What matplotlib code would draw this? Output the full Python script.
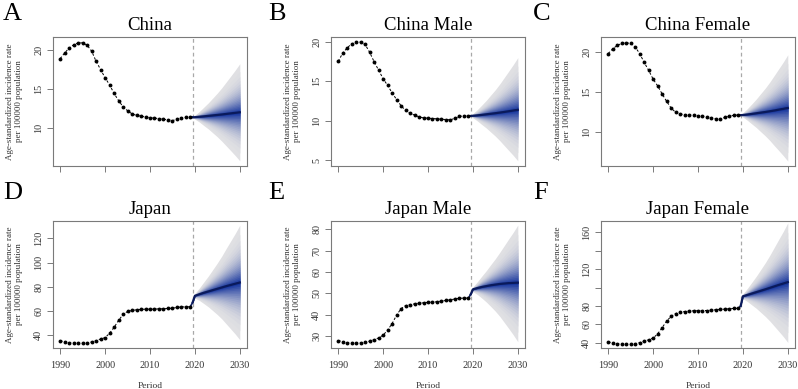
import numpy as np
import matplotlib
matplotlib.use("Agg")
import matplotlib.pyplot as plt
from statistics import NormalDist

plt.rcParams['font.family'] = ['Liberation Serif', 'DejaVu Serif']

# ---------------- data ----------------
years = list(range(1990, 2020))
proj_years = [2019.5] + list(range(2020, 2031))

titles = ["China", "China Male", "China Female", "Japan", "Japan Male", "Japan Female"]
letters = ["A", "B", "C", "D", "E", "F"]

obs_china = [18.85, 19.57, 20.2, 20.6, 20.85, 20.85, 20.55, 19.8, 18.5, 17.45, 16.4, 15.5, 14.4, 13.5,
             12.7, 12.2, 11.8, 11.6, 11.5, 11.4, 11.3, 11.25, 11.2, 11.1, 11.05, 10.95, 11.1, 11.3, 11.35, 11.35]
obs_china_m = [17.52, 18.55, 19.23, 19.74, 19.96, 19.96, 19.66, 18.67, 17.48, 16.41, 15.34, 14.49, 13.55, 12.7,
               11.92, 11.32, 10.98, 10.73, 10.51, 10.38, 10.34, 10.30, 10.26, 10.21, 10.17, 10.13, 10.34, 10.56, 10.64, 10.64]
obs_china_f = [19.75, 20.33, 20.75, 21.0, 21.08, 21.0, 20.58, 19.75, 18.67, 17.67, 16.58, 15.75, 14.75, 13.83,
               13.0, 12.46, 12.25, 12.17, 12.13, 12.08, 12.04, 12.0, 11.83, 11.75, 11.67, 11.63, 11.83, 12.0, 12.08, 12.13]
obs_japan = [35.3, 34.2, 33.7, 33.4, 33.1, 33.1, 33.4, 34.2, 35.3, 36.7, 37.8, 41.4, 46.3, 52.1,
             57.0, 59.5, 60.3, 60.9, 61.2, 61.4, 61.4, 61.4, 61.7, 61.7, 62.0, 62.2, 62.8, 63.3, 63.3, 63.6]
obs_japan_m = [27.97, 27.5, 27.0, 26.9, 26.9, 26.9, 27.2, 27.7, 28.4, 29.2, 30.5, 32.8, 35.9, 39.8,
               42.9, 44.3, 44.8, 45.1, 45.4, 45.6, 45.8, 45.9, 46.1, 46.4, 46.7, 47.0, 47.4, 47.7, 47.8, 47.8]
obs_japan_f = [41.1, 40.0, 39.3, 38.9, 38.5, 38.5, 39.3, 40.4, 41.9, 43.4, 45.2, 49.7, 56.4, 63.5,
               68.8, 71.8, 73.3, 74.0, 74.4, 74.8, 75.1, 75.1, 75.1, 75.5, 75.9, 76.3, 76.6, 77.0, 77.4, 77.4]

med_china = [11.35, 11.38, 11.43, 11.48, 11.54, 11.60, 11.66, 11.72, 11.79, 11.86, 11.93, 12.0]
up_china = [11.35, 11.63, 12.11, 12.66, 13.21, 13.83, 14.45, 15.13, 15.88, 16.63, 17.39, 18.2]
lo_china = [11.35, 11.13, 10.75, 10.30, 9.87, 9.37, 8.87, 8.31, 7.70, 7.09, 6.47, 5.8]

med_china_m = [10.62, 10.65, 10.70, 10.76, 10.83, 10.90, 10.97, 11.05, 11.13, 11.22, 11.31, 11.40]
up_china_m = [10.62, 10.91, 11.43, 12.01, 12.61, 13.28, 13.94, 14.68, 15.49, 16.30, 17.12, 18.0]
lo_china_m = [10.62, 10.39, 9.99, 9.53, 9.09, 8.58, 8.07, 7.50, 6.87, 6.25, 5.63, 4.95]

med_china_f = [12.10, 12.13, 12.19, 12.26, 12.34, 12.42, 12.50, 12.59, 12.68, 12.79, 12.89, 13.0]
up_china_f = [12.10, 12.39, 12.92, 13.51, 14.12, 14.80, 15.47, 16.22, 17.04, 17.87, 18.70, 19.6]
lo_china_f = [12.10, 11.87, 11.46, 11.01, 10.56, 10.04, 9.53, 8.96, 8.32, 7.71, 7.08, 6.4]

med_japan = [67.0, 72.5, 73.8, 75.0, 76.1, 77.2, 78.3, 79.4, 80.5, 81.5, 82.5, 83.5]
up_japan = [67.0, 74.4, 79.0, 84.0, 88.9, 94.3, 99.7, 105.5, 111.9, 118.1, 124.3, 131.0]
lo_japan = [67.0, 70.6, 68.6, 66.0, 63.3, 60.1, 56.9, 53.3, 49.1, 44.9, 40.7, 36.0]

med_japan_m = [49.5, 51.9, 52.5, 53.0, 53.4, 53.8, 54.1, 54.4, 54.6, 54.8, 54.9, 55.0]
up_japan_m = [49.5, 52.98, 55.46, 58.11, 60.66, 63.48, 66.2, 69.2, 72.35, 75.5, 78.57, 81.9]
lo_japan_m = [49.5, 50.8, 49.46, 47.76, 45.95, 43.86, 41.68, 39.22, 36.38, 33.55, 30.61, 27.4]

med_japan_f = [80.0, 90.5, 92.0, 93.5, 95.0, 96.5, 98.0, 99.6, 101.2, 102.8, 104.3, 105.8]
up_japan_f = [80.0, 93.07, 99.06, 105.7, 112.33, 119.61, 126.89, 134.91, 143.57, 152.23, 160.8, 170.0]
lo_japan_f = [80.0, 87.89, 84.82, 81.09, 77.37, 72.99, 68.61, 63.68, 58.1, 52.52, 46.84, 40.5]

x_ticks = [1990, 2000, 2010, 2020, 2030]
y_ticks = [[10, 15, 20], [5, 10, 15, 20], [10, 15, 20],
           [40, 60, 80, 100, 120], [30, 40, 50, 60, 70, 80], [40, 60, 80, 100, 120, 140, 160]]
y_ticklabels = [["10", "15", "20"], ["5", "10", "15", "20"], ["10", "15", "20"],
                ["40", "60", "80", "100", "120"], ["30", "40", "50", "60", "70", "80"],
                ["40", "60", "80", "", "120", "", "160"]]
y_lims = [(5.15, 21.6), (4.3, 20.6), (5.8, 21.8), (29.2, 134.5), (24.5, 83.8), (34.5, 172)]

obs_all = [obs_china, obs_china_m, obs_china_f, obs_japan, obs_japan_m, obs_japan_f]
med_all = [med_china, med_china_m, med_china_f, med_japan, med_japan_m, med_japan_f]
up_all = [up_china, up_china_m, up_china_f, up_japan, up_japan_m, up_japan_f]
lo_all = [lo_china, lo_china_m, lo_china_f, lo_japan, lo_japan_m, lo_japan_f]

# ---------------- layout ----------------
W, H = 798, 389
fig = plt.figure(figsize=(W / 100, H / 100), dpi=100)
cols = [(53, 247), (331, 525), (601, 795)]
rows = [(37, 166), (221, 348)]

coverages = np.linspace(0.95, 0.05, 19)
z95 = NormalDist().inv_cdf(0.975)
fracs = [NormalDist().inv_cdf((1 + c) / 2) / z95 for c in coverages]
c_out = np.array([0.88, 0.88, 0.89])
c_in = np.array([0.10, 0.22, 0.62])
n = len(fracs)
band_colors = [tuple(c_out + (c_in - c_out) * (k / (n - 1)) ** 1.45) for k in range(n)]

gray = '#7a7a7a'
for i in range(6):
    r, c = divmod(i, 3)
    x0, x1 = cols[c]
    y0, y1 = rows[r]
    ax = fig.add_axes([x0 / W, 1 - y1 / H, (x1 - x0) / W, (y1 - y0) / H])
    med = np.array(med_all[i]); up = np.array(up_all[i]); lo = np.array(lo_all[i])
    px = np.array(proj_years)
    for f, col in zip(fracs, band_colors):
        ax.fill_between(px, med - f * (med - lo), med + f * (up - med), color=col, lw=0, zorder=1)
    ax.plot(px, med, color='#0a1a5c', lw=1.6, zorder=3)
    ax.axvline(2019.5, color='#a8a8a8', lw=0.9, ls=(0, (3, 2.5)), zorder=2)
    ax.plot(years, obs_all[i], color='black', lw=0.7, ls=(0, (2.5, 2)), zorder=4)
    ax.plot(years, obs_all[i], 'o', color='black', ms=2.8, mew=0, zorder=5)
    ax.plot([years[-1], proj_years[0]], [obs_all[i][-1], med[0]], color='#0a1a5c', lw=1.2, zorder=3)

    ax.set_xlim(1988.4, 2031.6)
    ax.set_ylim(*y_lims[i])
    ax.set_xticks(x_ticks)
    if r == 1:
        ax.set_xticklabels([str(t) for t in x_ticks], fontsize=7.3, color='#333333')
        ax.set_xlabel("Period", fontsize=6.8, color='#333333', labelpad=9)
    else:
        ax.set_xticklabels([])
    ax.set_yticks(y_ticks[i])
    ax.set_yticklabels(y_ticklabels[i], fontsize=7.3, color='#333333', rotation=90, va='center')
    ax.tick_params(axis='both', color=gray, length=4, width=0.7, pad=3)
    ax.tick_params(axis='x', pad=5)
    for s in ax.spines.values():
        s.set_color(gray)
        s.set_linewidth(0.8)
    ax.set_ylabel("Age-standardized incidence rate\nper 100000 population", fontsize=6.5,
                  color='#333333', labelpad=8, linespacing=1.15)
    ax.set_title(titles[i], fontsize=13.5, pad=5)
    lx = [3, 268, 533][c]
    ly = [3, 182][r]
    fig.text(lx / W, 1 - ly / H, letters[i], fontsize=19, va='top', ha='left')

fig.savefig("out.png", dpi=100)
